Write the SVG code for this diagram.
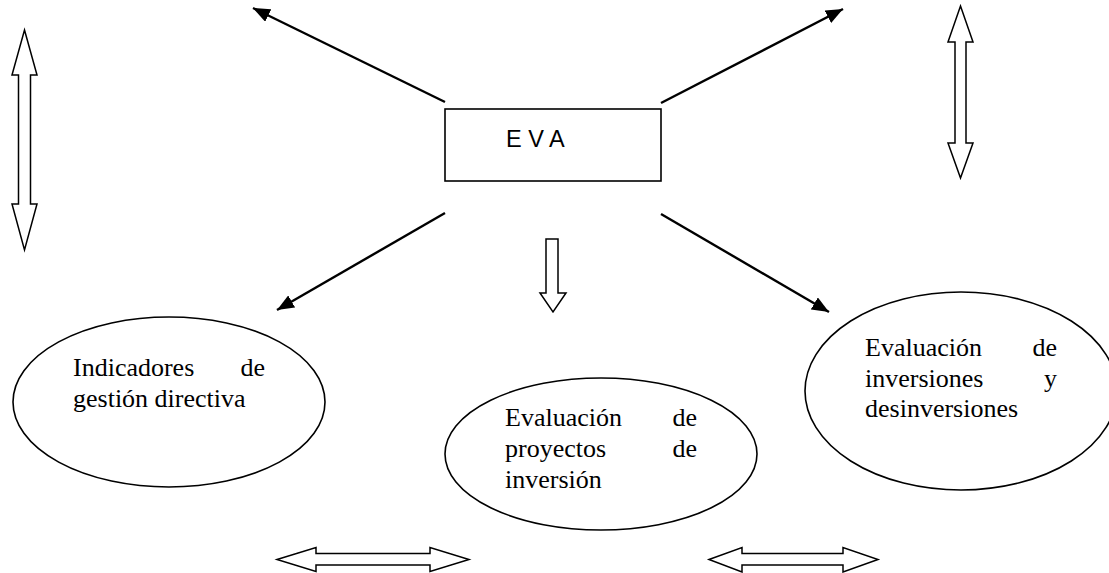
<svg xmlns="http://www.w3.org/2000/svg" width="1109" height="573" viewBox="0 0 1109 573">
<style>
.lbl{font-family:"Liberation Serif","Times New Roman",serif;font-size:26px;fill:#000}
.end{text-anchor:end}
.shape{fill:#fff;stroke:#000;stroke-width:1.6}
.conn{stroke:#000;stroke-width:2.4;fill:none}
.hollow{fill:#fff;stroke:#000;stroke-width:1.5;stroke-linejoin:miter}
</style>
<defs>
<marker id="ah" markerUnits="userSpaceOnUse" markerWidth="18" markerHeight="14" refX="17" refY="7" orient="auto">
<path d="M0,0 L17,7 L0,14 Z" fill="#000"/>
</marker>
</defs>
<rect width="1109" height="573" fill="#fff"/>
<g id="connectors">
<line class="conn" x1="445" y1="102" x2="253" y2="8" marker-end="url(#ah)"/>
<line class="conn" x1="661" y1="103" x2="843" y2="9" marker-end="url(#ah)"/>
<line class="conn" x1="445" y1="213" x2="277" y2="310" marker-end="url(#ah)"/>
<line class="conn" x1="661" y1="214" x2="829" y2="312" marker-end="url(#ah)"/>
</g>
<g id="hollow-arrows">
<polygon class="hollow" points="24.5,30 37,75 30.5,75 30.5,204 37,204 24.5,250 12,204 18.5,204 18.5,75 12,75"/>
<polygon class="hollow" points="960.5,6 973,42 966,42 966,143 973,143 960.5,178 948,143 955,143 955,42 948,42"/>
<polygon class="hollow" points="546,239 558,239 558,293 566,293 553,312 540,293 546,293"/>
<polygon class="hollow" points="277,559.5 316,547.5 316,553.5 430,553.5 430,547.5 469,559.5 430,571.5 430,565 316,565 316,571.5"/>
<polygon class="hollow" points="709,559.5 742,547.5 742,553.5 843,553.5 843,547.5 878,559.5 843,572 843,565 742,565 742,572"/>
</g>
<g id="eva">
<rect class="shape" x="445" y="109" width="216" height="72"/>
<text x="506" y="147" style="font-family:'Liberation Sans',Arial,sans-serif;font-size:23.5px">E V A</text>
</g>
<g id="indicadores">
<ellipse class="shape" cx="169" cy="402" rx="156" ry="85"/>
<text class="lbl" x="73" y="376">Indicadores</text>
<text class="lbl end" x="265" y="376">de</text>
<text class="lbl" x="73" y="407">gestión directiva</text>
</g>
<g id="proyectos">
<ellipse class="shape" cx="601" cy="454" rx="156" ry="76"/>
<text class="lbl" x="505" y="426">Evaluación</text>
<text class="lbl end" x="697" y="426">de</text>
<text class="lbl" x="505" y="457">proyectos</text>
<text class="lbl end" x="697" y="457">de</text>
<text class="lbl" x="505" y="488">inversión</text>
</g>
<g id="inversiones">
<ellipse class="shape" cx="961" cy="391" rx="156" ry="99"/>
<text class="lbl" x="865" y="356">Evaluación</text>
<text class="lbl end" x="1057" y="356">de</text>
<text class="lbl" x="865" y="387">inversiones</text>
<text class="lbl end" x="1057" y="387">y</text>
<text class="lbl" x="865" y="417">desinversiones</text>
</g>
</svg>
